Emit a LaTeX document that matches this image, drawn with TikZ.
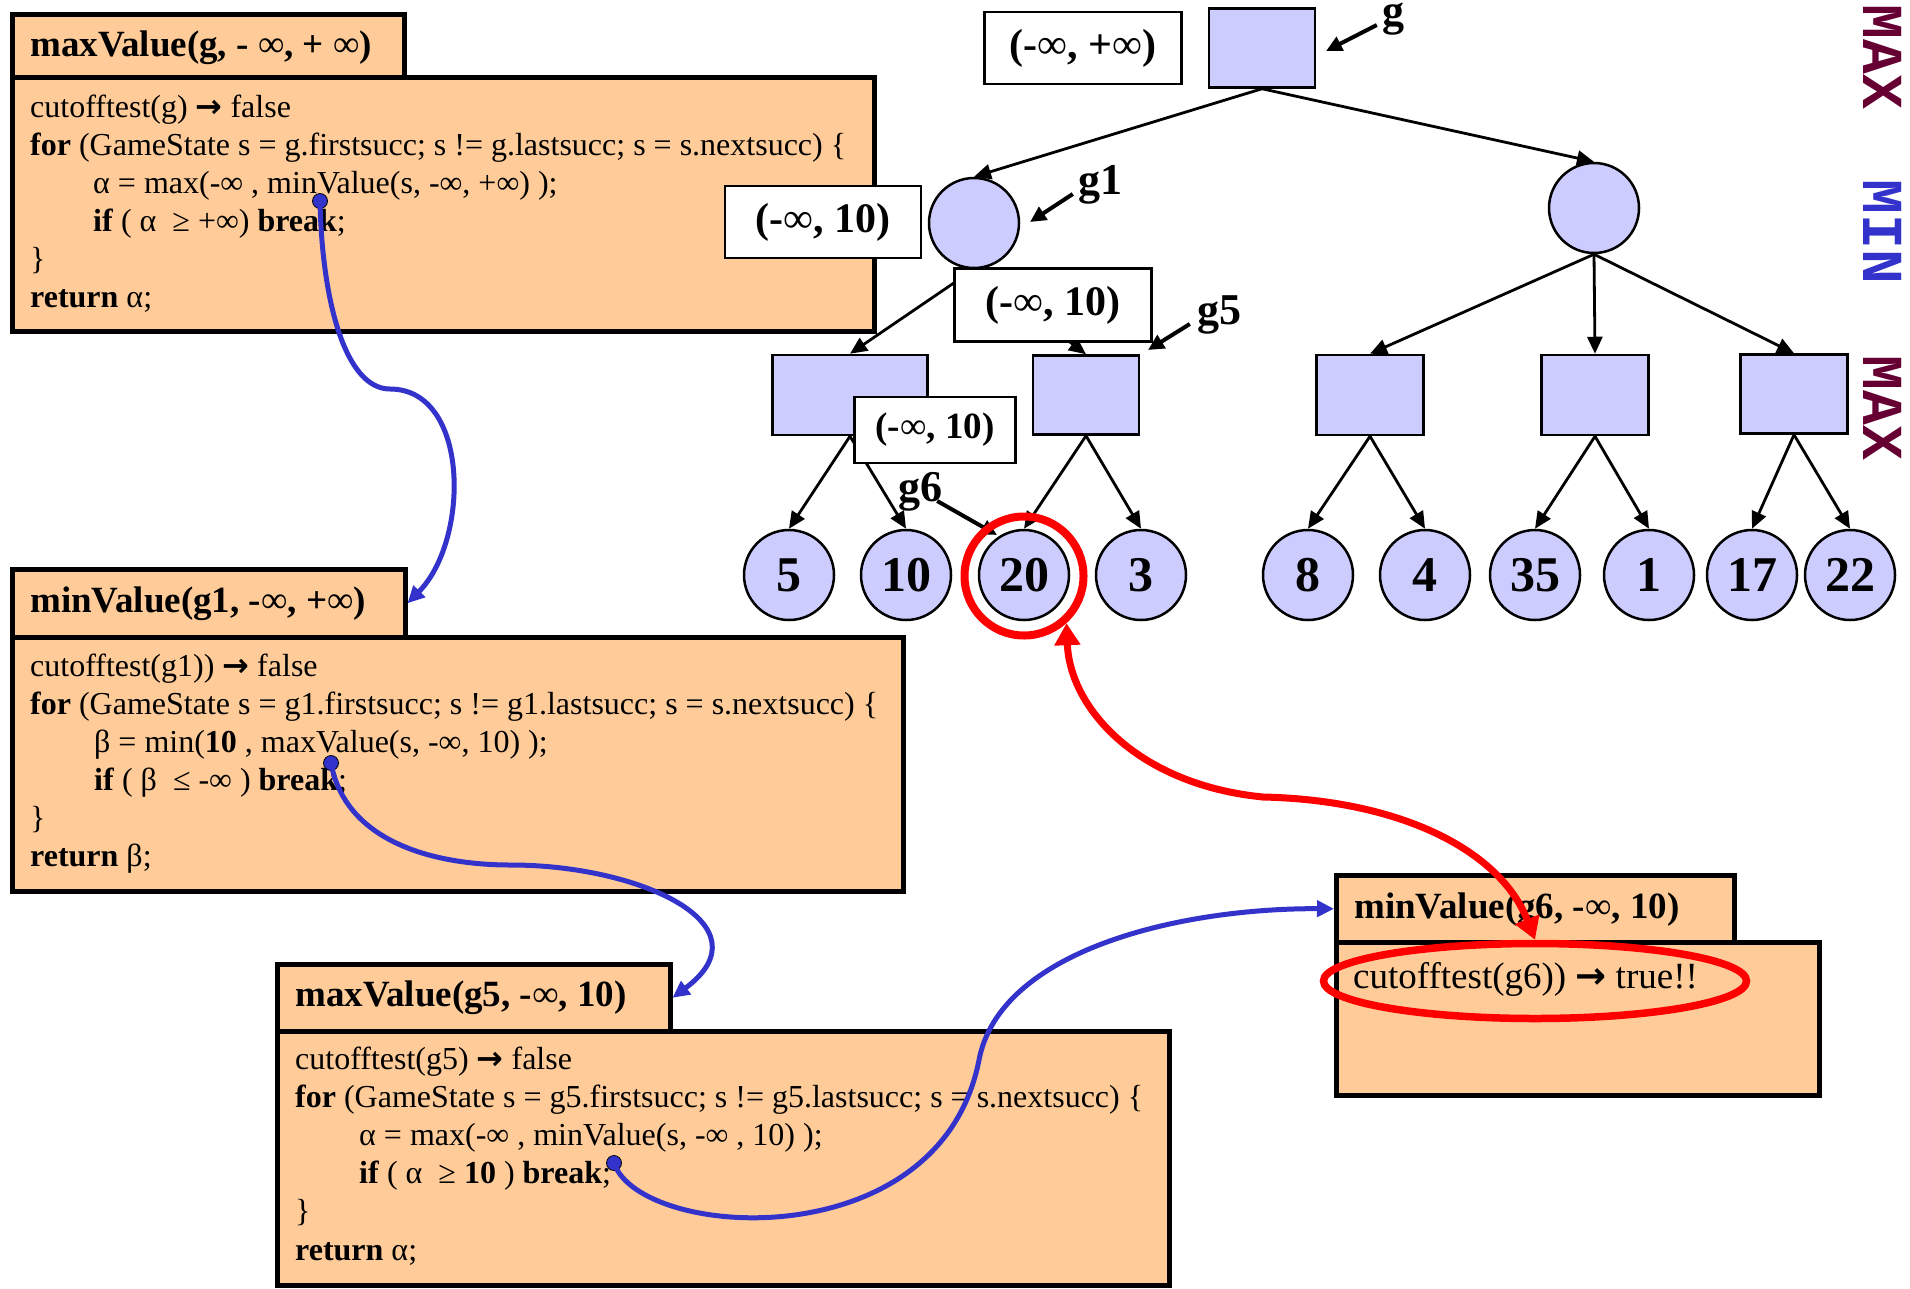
\documentclass[tikz,border=0pt]{standalone}
\usepackage{fontspec}
\setmainfont{Liberation Serif}
\newfontfamily\levelfont{Liberation Mono}
\newfontfamily\arrowfont{DejaVu Sans}
\usetikzlibrary{arrows.meta,shapes.geometric}

\definecolor{peach}{HTML}{FFCC99}
\definecolor{lav}{HTML}{CCCCFF}
\definecolor{maxcol}{HTML}{660033}
\definecolor{mincol}{HTML}{3333CC}
\definecolor{callcol}{HTML}{3333CC}
\definecolor{hotred}{HTML}{FF0000}

\newcommand{\infy}{{\mdseries ∞}}
\newcommand{\fs}[2]{\fontsize{#1}{#2}\selectfont}
\newcommand{\yields}{{\arrowfont\bfseries →}}

\begin{document}
\begin{tikzpicture}[x=1pt,y=-1pt,
  codebox/.style={draw=black, line width=4.5pt, fill=peach, anchor=north west, inner sep=0pt},
  boxtitle/.style={anchor=base west, inner sep=0pt, font=\fs{37}{44}\bfseries},
  codeline/.style={anchor=base west, inner sep=0pt, font=\fs{32}{38}},
  maxnode/.style={draw, fill=lav, line width=2.5pt, rectangle, inner sep=0pt},
  minnode/.style={draw, fill=lav, line width=2.5pt, circle, minimum size=90pt, inner sep=0pt},
  leafnode/.style={minnode, font=\fs{50}{60}\bfseries},
  rangebox/.style={draw, fill=white, line width=2.5pt, inner sep=0pt, font=\fs{42}{50}\bfseries},
  treeedge/.style={line width=2.8pt, -{Triangle[length=17pt,width=15pt]}},
  glabel/.style={anchor=base, inner sep=0pt, font=\fs{44}{50}\bfseries},
  glabelarrow/.style={line width=4pt, -{Triangle[length=16pt,width=15pt]}},
  levellabel/.style={rotate=-90, inner sep=0pt, font=\levelfont\bfseries\fs{58}{58}},
  calldot/.style={circle, fill=callcol, draw=black, line width=0.8pt, minimum size=15pt, inner sep=0pt},
  callarrow/.style={draw=callcol, line width=5pt, -{Triangle[length=17pt,width=16pt]}},
  hotarrow/.style={draw=hotred, line width=7pt, {Triangle[length=22pt,width=25pt]}-{Triangle[length=22pt,width=25pt]}}
]
\fill[white] (0,0) rectangle (1910,1288);
\useasboundingbox (0,0) rectangle (1910,1288);

% ---------- call frames ----------
\node[codebox, minimum width=392pt, minimum height=63pt] (b1tab) at (10,12) {};
\node[codebox, minimum width=862pt, minimum height=254pt] (b1body) at (10,75) {};
\node[boxtitle] (b1title) at (30,56) {maxValue(g, - \infy, + \infy)};
\node[codeline] (b1l1) at (30,117) {cutofftest(g) \yields{} false};
\node[codeline] (b1l2) at (30,155) {\textbf{for} (GameState s = g.firstsucc; s != g.lastsucc; s = s.nextsucc) \{};
\node[codeline] (b1l3) at (93,193) {α = max(-∞ , minValue(s, -∞, +∞) );};
\node[codeline] (b1l4) at (93,231) {\textbf{if} ( α \ ≥ +∞) \textbf{break};};
\node[codeline] (b1l5) at (30,269) {\}};
\node[codeline] (b1l6) at (30,307) {\textbf{return} α;};

\node[codebox, minimum width=393pt, minimum height=68pt] (b2tab) at (10,567) {};
\node[codebox, minimum width=891pt, minimum height=254pt] (b2body) at (10,635) {};
\node[boxtitle] (b2title) at (30,612) {minValue(g1, -\infy, +\infy)};
\node[codeline] (b2l1) at (30,676) {cutofftest(g1)) \yields{} false};
\node[codeline] (b2l2) at (30,714) {\textbf{for} (GameState s = g1.firstsucc; s != g1.lastsucc; s = s.nextsucc) \{};
\node[codeline] (b2l3) at (94,752) {β = min(\textbf{10} , maxValue(s, -∞, 10) );};
\node[codeline] (b2l4) at (94,790) {\textbf{if} ( β \ ≤ -∞ ) \textbf{break};};
\node[codeline] (b2l5) at (30,828) {\}};
\node[codeline] (b2l6) at (30,866) {\textbf{return} β;};

\node[codebox, minimum width=393pt, minimum height=67pt] (b3tab) at (275,962) {};
\node[codebox, minimum width=892pt, minimum height=254pt] (b3body) at (275,1029) {};
\node[boxtitle] (b3title) at (295,1006) {maxValue(g5, -\infy, 10)};
\node[codeline] (b3l1) at (295,1069) {cutofftest(g5) \yields{} false};
\node[codeline] (b3l2) at (295,1107) {\textbf{for} (GameState s = g5.firstsucc; s != g5.lastsucc; s = s.nextsucc) \{};
\node[codeline] (b3l3) at (359,1145) {α = max(-∞ , minValue(s, -∞ , 10) );};
\node[codeline] (b3l4) at (359,1183) {\textbf{if} ( α \ ≥ \textbf{10} ) \textbf{break};};
\node[codeline] (b3l5) at (295,1221) {\}};
\node[codeline] (b3l6) at (295,1260) {\textbf{return} α;};

\node[codebox, minimum width=398pt, minimum height=67pt] (b4tab) at (1334,873) {};
\node[codebox, minimum width=483pt, minimum height=153pt] (b4body) at (1334,940) {};
\node[boxtitle] (b4title) at (1354,918) {minValue(g6, -\infy, 10)};
\node[codeline, font=\fs{37}{44}] (b4l1) at (1353,988) {cutofftest(g6)) \yields{} true!!};

% ---------- game tree ----------
\node[maxnode, minimum width=106pt, minimum height=79pt] (g) at (1262,48) {};
\node[minnode] (g1) at (974,223) {};
\node[minnode] (m2) at (1594,208) {};
\node[maxnode, minimum width=155pt, minimum height=80pt] (k1) at (850,395) {};
\node[maxnode, minimum width=106pt, minimum height=79pt] (g5) at (1086,395) {};
\node[maxnode, minimum width=107pt, minimum height=80pt] (k3) at (1370,395) {};
\node[maxnode, minimum width=107pt, minimum height=80pt] (k4) at (1595,395) {};
\node[maxnode, minimum width=107pt, minimum height=79pt] (k5) at (1794,394) {};

\node[leafnode] (l5)  at (789,575)  {5};
\node[leafnode] (l10) at (906,575)  {10};
\node[leafnode] (l20) at (1024,575) {20};
\node[leafnode] (l3)  at (1141,575) {3};
\node[leafnode] (l8)  at (1308,575) {8};
\node[leafnode] (l4)  at (1425,575) {4};
\node[leafnode] (l35) at (1535,575) {35};
\node[leafnode] (l1)  at (1649,575) {1};
\node[leafnode] (l17) at (1752,575) {17};
\node[leafnode] (l22) at (1850,575) {22};

\draw[treeedge] (g.south) -- (g1.north);
\draw[treeedge] (g.south) -- (m2.north);
\draw[treeedge] (g1.south) -- (k1.north);
\draw[treeedge] (g1.south) -- (g5.north);
\draw[treeedge] (m2.south) -- (k3.north);
\draw[treeedge] (m2.south) -- (k4.north);
\draw[treeedge] (m2.south) -- (k5.north);
\draw[treeedge] (k1.south) -- (l5.north);
\draw[treeedge] (k1.south) -- (l10.north);
\draw[treeedge] (g5.south) -- (l20.north);
\draw[treeedge] (g5.south) -- (l3.north);
\draw[treeedge] (k3.south) -- (l8.north);
\draw[treeedge] (k3.south) -- (l4.north);
\draw[treeedge] (k4.south) -- (l35.north);
\draw[treeedge] (k4.south) -- (l1.north);
\draw[treeedge] (k5.south) -- (l17.north);
\draw[treeedge] (k5.south) -- (l22.north);

% alpha-beta windows
\node[rangebox, minimum width=197pt, minimum height=72pt] (rg)  at (1083,48)  {(-\infy, +\infy)};
\node[rangebox, minimum width=196pt, minimum height=72pt] (rg1) at (823,222)  {(-\infy, 10)};
\node[rangebox, minimum width=197pt, minimum height=73pt] (rg5) at (1053,305) {(-\infy, 10)};
\node[rangebox, minimum width=161pt, minimum height=66pt, font=\fs{37}{44}\bfseries] (rk1) at (935,430) {(-\infy, 10)};

% state names
\node[glabel] (tg)  at (1393,25)  {g};
\node[glabel] (tg1) at (1100,194) {g1};
\node[glabel] (tg5) at (1219,324) {g5};
\node[glabel] (tg6) at (920,501)  {g6};
\coordinate (tipg)  at (1326,51);
\coordinate (tipg1) at (1030,222);
\coordinate (tipg5) at (1148,350);
\coordinate (tipg6) at (997,535);
\draw[glabelarrow] ([xshift=-5pt]tg.base west) -- (tipg);
\draw[glabelarrow] ([xshift=-5pt]tg1.base west) -- (tipg1);
\draw[glabelarrow] ([xshift=-7pt]tg5.base west) -- (tipg5);
\draw[glabelarrow] ([xshift=-5pt]tg6.base east) -- (tipg6);

% level names
\node[levellabel, text=maxcol] (lv1) at (1883,57)  {MAX};
\node[levellabel, text=mincol] (lv2) at (1883,232) {MIN};
\node[levellabel, text=maxcol] (lv3) at (1883,408) {MAX};

% ---------- recursive calls ----------
\node[calldot] (d1) at (320,201) {};
\node[calldot] (d2) at (331,763) {};
\node[calldot] (d3) at (614,1163) {};
\draw[callarrow] (d1.center) .. controls (322,300) and (345,389) .. (390,389)
                 .. controls (470,389) and (470,540) .. (b2tab.east);
\draw[callarrow] (d2.center) .. controls (345,840) and (430,865) .. (511,865)
                 .. controls (640,865) and (770,925) .. (b3tab.east);
\draw[callarrow] (d3.center) .. controls (640,1240) and (940,1260) .. (979,1060)
                 .. controls (1000,950) and (1180,908) .. (b4tab.west);

% ---------- cutoff ----------
\node[draw=hotred, line width=8pt, circle, minimum size=119pt, inner sep=0pt] (ring) at (1024,576) {};
\node[draw=hotred, line width=7.5pt, ellipse, minimum width=423pt, minimum height=75pt, inner sep=0pt] (cut) at (1535,981) {};
\draw[hotarrow] (cut.north) .. controls (1500,850) and (1400,800) .. (1263,797)
                .. controls (1140,785) and (1070,710) .. (ring.-48);
\end{tikzpicture}
\end{document}
